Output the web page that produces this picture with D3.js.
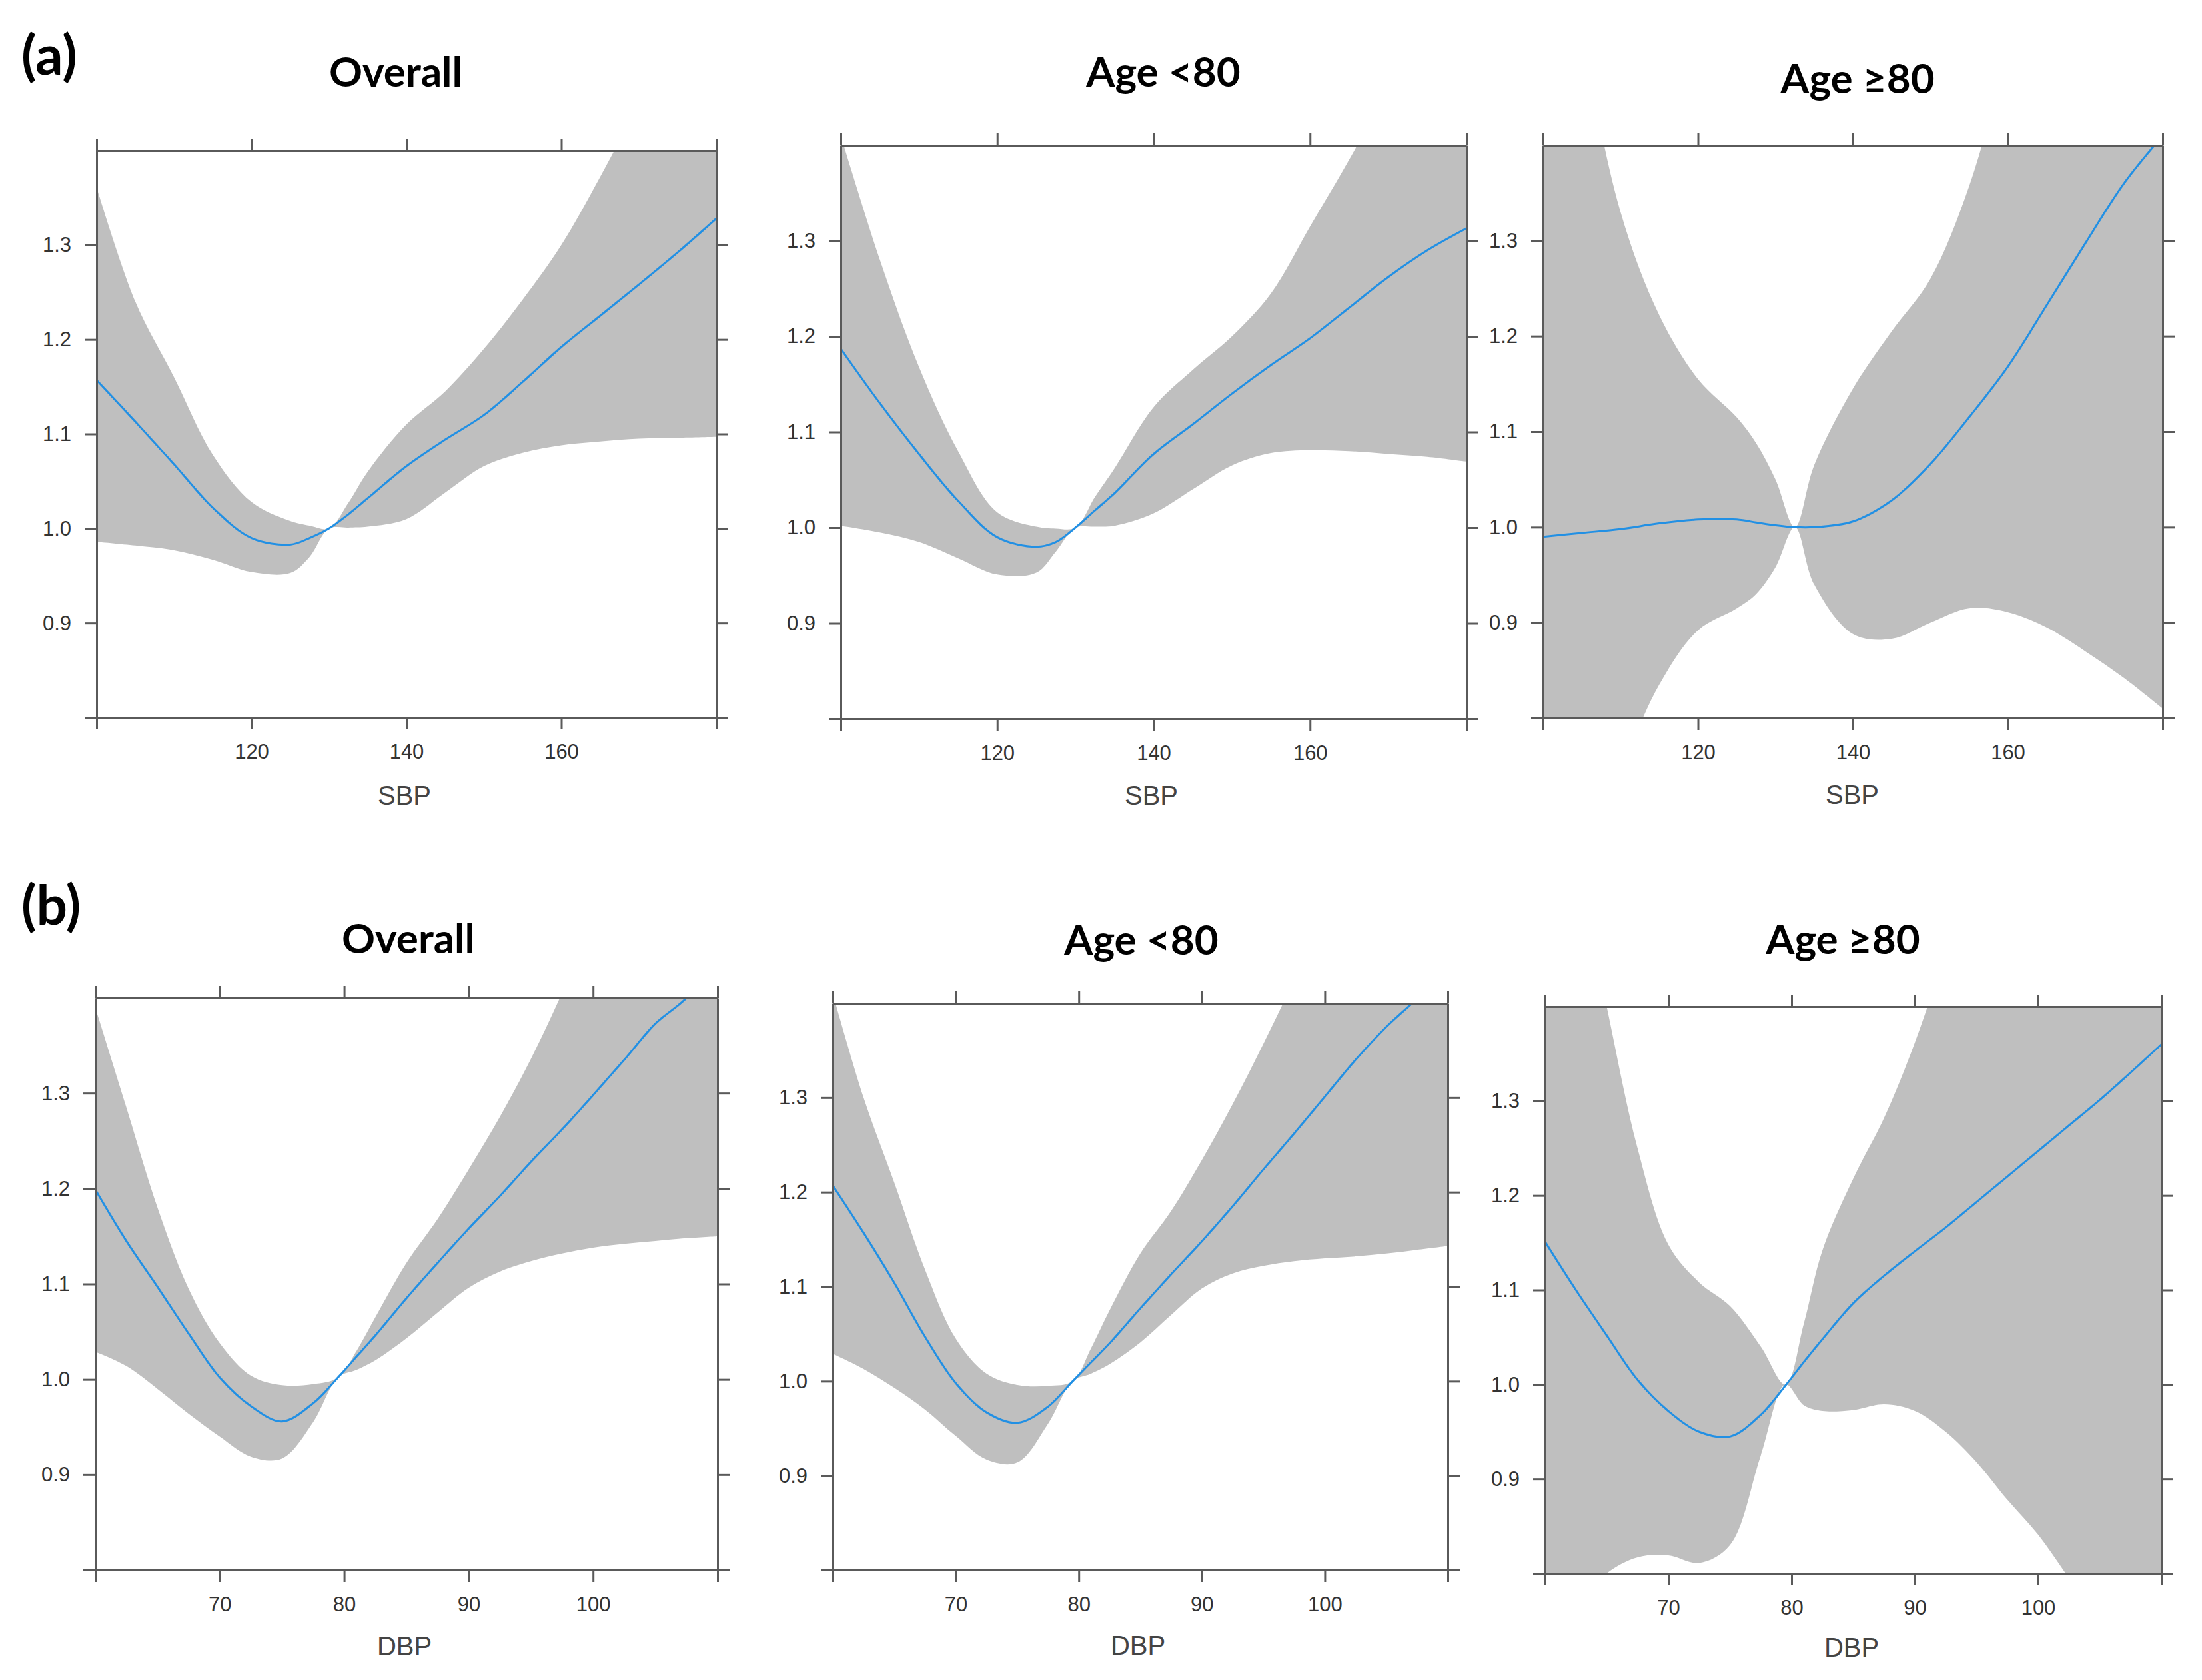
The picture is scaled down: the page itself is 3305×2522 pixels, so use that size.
<!DOCTYPE html>
<html>
<head>
<meta charset="utf-8">
<script src="https://cdn.jsdelivr.net/npm/d3@7"></script>
<style>
body{margin:0;background:#fff}
.axis text{font-family:"Liberation Sans",Arial,sans-serif;font-size:31px;fill:#333}
.axis line,.axis path{stroke:#5a5a5a;stroke-width:3}
.title{font-family:Lato,sans-serif;font-weight:700;font-size:62px;fill:#000}
.tag{font-family:Lato,sans-serif;font-weight:700;font-size:82px;fill:#000}
.xlab{font-family:"Liberation Sans",Arial,sans-serif;font-size:40px;fill:#444}
</style>
</head>
<body>
<svg id="fig" width="3305" height="2522"></svg>
<script>
// x grids
const sbpX = [100,105,110,115,120,125,127.5,130,132.5,135,140,145,150,155,160,165,170,175,180]
const dbpX = [60,62.5,65,67.5,70,72.5,75,77.5,79.5,81,82.5,85,87.5,90,92.5,95,97.5,100,102.5,105,107.5,110]

// (a) SBP - hazard ratio, lower / upper 95% CI
const sbpOverallFit = [1.157,1.113,1.068,1.022,0.990,0.983,0.990,1.000,1.015,1.032,1.066,1.094,1.120,1.155,1.192,1.225,1.258,1.292,1.328]
const sbpOverallLo  = [0.986,0.982,0.977,0.967,0.954,0.953,0.970,1.000,1.001,1.002,1.010,1.038,1.066,1.080,1.088,1.092,1.095,1.096,1.097]
const sbpOverallHi  = [1.361,1.240,1.160,1.078,1.028,1.008,1.003,1.000,1.027,1.060,1.110,1.145,1.190,1.242,1.300,1.372,1.45,1.53,1.61]

const sbpYoungFit = [1.187,1.130,1.077,1.028,0.990,0.980,0.985,1.000,1.018,1.036,1.077,1.108,1.140,1.170,1.198,1.230,1.262,1.290,1.313]
const sbpYoungLo  = [1.002,0.995,0.985,0.968,0.951,0.953,0.975,1.000,1.001,1.002,1.015,1.040,1.065,1.078,1.081,1.080,1.077,1.074,1.069]
const sbpYoungHi  = [1.410,1.280,1.168,1.080,1.016,1.001,0.999,1.000,1.032,1.062,1.126,1.165,1.200,1.245,1.315,1.385,1.46,1.54,1.62]

const sbpOldFit = [0.990,0.994,0.998,1.004,1.008,1.008,1.005,1.002,1.000,1.000,1.006,1.028,1.066,1.115,1.168,1.232,1.297,1.360,1.410]
const sbpOldLo  = [0.55,0.65,0.745,0.835,0.892,0.915,0.930,0.958,1.000,0.940,0.888,0.883,0.900,0.915,0.911,0.895,0.870,0.842,0.810]
const sbpOldHi  = [1.75,1.52,1.33,1.222,1.155,1.115,1.088,1.05,1.000,1.065,1.145,1.205,1.260,1.357,1.50,1.65,1.80,1.95,2.1]

// (b) DBP
const dbpOverallFit = [1.199,1.145,1.097,1.048,1.002,0.972,0.956,0.975,1.002,1.024,1.046,1.085,1.122,1.158,1.192,1.228,1.262,1.298,1.335,1.373,1.40,1.44]
const dbpOverallLo  = [1.029,1.014,0.990,0.964,0.940,0.919,0.917,0.955,1.002,1.010,1.020,1.043,1.070,1.096,1.113,1.124,1.132,1.138,1.142,1.145,1.148,1.150]
const dbpOverallHi  = [1.39,1.285,1.180,1.095,1.038,1.004,0.994,0.995,1.002,1.030,1.065,1.122,1.168,1.220,1.275,1.336,1.405,1.48,1.55,1.62,1.69,1.76]

const dbpYoungFit = [1.207,1.157,1.104,1.047,0.998,0.967,0.956,0.973,1.000,1.020,1.040,1.077,1.113,1.148,1.185,1.224,1.262,1.301,1.340,1.375,1.405,1.44]
const dbpYoungLo  = [1.029,1.013,0.993,0.970,0.942,0.917,0.914,0.955,1.000,1.008,1.018,1.041,1.070,1.098,1.114,1.122,1.127,1.130,1.132,1.135,1.139,1.143]
const dbpYoungHi  = [1.41,1.300,1.210,1.118,1.045,1.008,0.996,0.995,1.000,1.035,1.075,1.135,1.180,1.234,1.293,1.357,1.425,1.50,1.57,1.64,1.71,1.78]

const dbpOldFit = [1.151,1.100,1.052,1.005,0.972,0.950,0.945,0.968,0.999,1.024,1.048,1.086,1.115,1.141,1.166,1.193,1.220,1.247,1.274,1.301,1.330,1.360]
const dbpOldLo  = [0.70,0.765,0.800,0.817,0.819,0.811,0.830,0.925,1.000,0.978,0.972,0.973,0.979,0.972,0.950,0.918,0.878,0.841,0.795,0.75,0.70,0.65]
const dbpOldHi  = [1.75,1.56,1.40,1.250,1.148,1.108,1.083,1.040,1.000,1.065,1.142,1.218,1.282,1.362,1.46,1.58,1.70,1.82,1.94,2.05,2.15,2.25]

// ticks
const sbpTicks = [100,120,140,160,180]
const sbpTickLabels = [120,140,160]
const dbpTicks = [60,70,80,90,100,110]
const dbpTickLabels = [70,80,90,100]
const yTicks = [0.8,0.9,1.0,1.1,1.2,1.3]
const yTickLabels = [0.9,1.0,1.1,1.2,1.3]

const titles = ['Overall','Age <80','Age \u226580']

const panels = [
  {x:sbpX, fit:sbpOverallFit, lo:sbpOverallLo, hi:sbpOverallHi, title:titles[0], xlab:'SBP', dom:[100,180], ticks:sbpTicks, labs:sbpTickLabels,
   box:[145,226,1075,1077], tpos:[594,130], lpos:[607,1208]},
  {x:sbpX, fit:sbpYoungFit, lo:sbpYoungLo, hi:sbpYoungHi, title:titles[1], xlab:'SBP', dom:[100,180], ticks:sbpTicks, labs:sbpTickLabels,
   box:[1262,218,2201,1079], tpos:[1746,130], lpos:[1728,1208]},
  {x:sbpX, fit:sbpOldFit, lo:sbpOldLo, hi:sbpOldHi, title:titles[2], xlab:'SBP', dom:[100,180], ticks:sbpTicks, labs:sbpTickLabels,
   box:[2316,218,3246,1078], tpos:[2788,140], lpos:[2780,1207]},
  {x:dbpX, fit:dbpOverallFit, lo:dbpOverallLo, hi:dbpOverallHi, title:titles[0], xlab:'DBP', dom:[60,110], ticks:dbpTicks, labs:dbpTickLabels,
   box:[143,1498,1077,2357], tpos:[613,1431], lpos:[607,2485]},
  {x:dbpX, fit:dbpYoungFit, lo:dbpYoungLo, hi:dbpYoungHi, title:titles[1], xlab:'DBP', dom:[60,110], ticks:dbpTicks, labs:dbpTickLabels,
   box:[1250,1506,2173,2357], tpos:[1713,1433], lpos:[1708,2484]},
  {x:dbpX, fit:dbpOldFit, lo:dbpOldLo, hi:dbpOldHi, title:titles[2], xlab:'DBP', dom:[60,110], ticks:dbpTicks, labs:dbpTickLabels,
   box:[2319,1511,3244,2362], tpos:[2766,1432], lpos:[2779,2487]}
]

const svg = d3.select('#fig')

svg.append('text').attr('class','tag').attr('x',32).attr('y',112).text('(a)')
svg.append('text').attr('class','tag').attr('x',32).attr('y',1388).text('(b)')

const curve = d3.curveCatmullRom.alpha(0.5)

panels.forEach((p,i)=>{
  const [x0,y0,x1,y1] = p.box
  const x = d3.scaleLinear().domain(p.dom).range([x0,x1])
  const y = d3.scaleLinear().domain([0.8,1.4]).range([y1,y0])
  const rows = p.x.map((v,j)=>({v:v, fit:p.fit[j], lo:p.lo[j], hi:p.hi[j]}))

  svg.append('clipPath').attr('id','clip'+i).append('rect')
     .attr('x',x0).attr('y',y0).attr('width',x1-x0).attr('height',y1-y0)

  const g = svg.append('g').attr('clip-path','url(#clip'+i+')')

  const band = d3.area().curve(curve)
     .x(d=>x(d.v)).y0(d=>y(d.lo)).y1(d=>y(d.hi))
  g.append('path').datum(rows).attr('d',band).attr('fill','#bfbfbf')

  const line = d3.line().curve(curve).x(d=>x(d.v)).y(d=>y(d.fit))
  g.append('path').datum(rows).attr('d',line)
     .attr('fill','none').attr('stroke','#2290e4').attr('stroke-width',3)

  const fmtX = d=>p.labs.includes(d) ? d : ''
  const fmtY = d=>yTickLabels.some(t=>Math.abs(t-d)<1e-9) ? d3.format('.1f')(d) : ''

  svg.append('g').attr('class','axis').attr('transform','translate(0,'+y1+')')
     .call(d3.axisBottom(x).tickValues(p.ticks).tickFormat(fmtX).tickSize(18).tickSizeOuter(0).tickPadding(22))
  svg.append('g').attr('class','axis').attr('transform','translate(0,'+y0+')')
     .call(d3.axisTop(x).tickValues(p.ticks).tickFormat('').tickSize(18).tickSizeOuter(0))
  svg.append('g').attr('class','axis').attr('transform','translate('+x0+',0)')
     .call(d3.axisLeft(y).tickValues(yTicks).tickFormat(fmtY).tickSize(18).tickSizeOuter(0).tickPadding(20))
  svg.append('g').attr('class','axis').attr('transform','translate('+x1+',0)')
     .call(d3.axisRight(y).tickValues(yTicks).tickFormat('').tickSize(18).tickSizeOuter(0))

  svg.append('text').attr('class','title').attr('text-anchor','middle')
     .attr('x',p.tpos[0]).attr('y',p.tpos[1]).text(p.title)
  svg.append('text').attr('class','xlab').attr('text-anchor','middle')
     .attr('x',p.lpos[0]).attr('y',p.lpos[1]).text(p.xlab)
})
</script>
</body>
</html>
